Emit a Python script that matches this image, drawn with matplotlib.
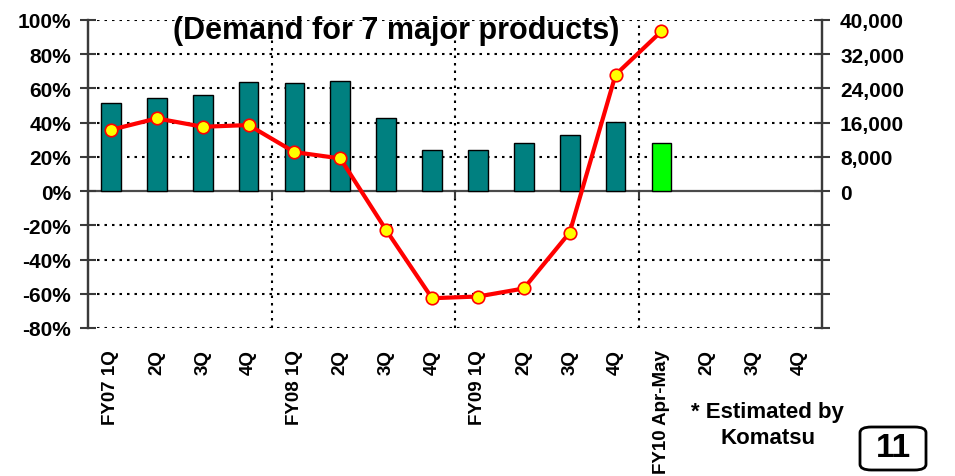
import matplotlib
matplotlib.use("Agg")
import matplotlib.pyplot as plt
from matplotlib.patches import FancyBboxPatch
import numpy as np

plt.rcParams["font.family"] = ["Liberation Sans", "DejaVu Sans"]
plt.rcParams["font.weight"] = "bold"

categories = [
    "FY07 1Q", "2Q", "3Q", "4Q",
    "FY08 1Q", "2Q", "3Q", "4Q",
    "FY09 1Q", "2Q", "3Q", "4Q",
    "FY10 Apr-May", "2Q", "3Q", "4Q",
]
# units (right axis), one per period available
demand_units = [20500, 21800, 22400, 25500, 25200, 25800, 17200, 9600,
                9600, 11200, 13100, 16100, 11200]
# year-on-year change in % (left axis)
yoy_change = [35.8, 42.5, 37.6, 38.6, 22.8, 19.1, -22.8, -62.6,
              -61.6, -56.9, -24.2, 68.0, 93.4]
left_ticks = [-80, -60, -40, -20, 0, 20, 40, 60, 80, 100]
right_ticks = [0, 8000, 16000, 24000, 32000, 40000]

TEAL = "#008080"
GREEN = "#00FF00"
dots = (0, (1.2, 2.4))

fig = plt.figure(figsize=(9.55, 4.77), dpi=100)
ax2 = fig.add_axes([88 / 955, 1 - 329 / 477, (822 - 88) / 955, (329 - 21) / 477])
ax = ax2.twinx()
ax.set_zorder(ax2.get_zorder() + 1)
ax.patch.set_visible(False)

x = np.arange(len(categories))

# bars on right axis
bar_colors = [TEAL] * (len(demand_units) - 1) + [GREEN]
ax2.bar(x[:len(demand_units)], demand_units, width=0.43, color=bar_colors,
        edgecolor="black", linewidth=1.0, zorder=3)
ax2.set_ylim(-32000, 40000)
ax2.set_xlim(-0.5, len(categories) - 0.5)

# grid
for v in range(-32000, 40001, 8000):
    if v == 0:
        ax2.axhline(0, color="#4a4a4a", lw=1.6, zorder=2)
    else:
        ax2.axhline(v, xmin=0.012, color="black", lw=1.5, ls=dots, zorder=1)
for b in [3.5, 7.5, 11.5]:
    ax2.axvline(b, color="black", lw=1.5, ls=dots, zorder=1)
    ax2.plot([b, b], [0, -1500], color="#3a3a3a", lw=1.5, zorder=2)

# line on left axis
ax.plot(x[:len(yoy_change)], yoy_change, color="#FF0000", lw=3,
        marker="o", markersize=9, markerfacecolor="#FFFF00",
        markeredgecolor="#FF0000", markeredgewidth=1.2, zorder=5)
ax.set_ylim(-80, 100)

# axis placement: percent on the left, units on the right
ax.yaxis.tick_left()
ax.yaxis.set_label_position("left")
ax2.yaxis.tick_right()

ax.set_yticks(left_ticks)
ax.set_yticklabels([f"{t}%" for t in left_ticks])
ax2.set_yticks(list(range(-32000, 40001, 8000)))
ax2.set_yticklabels([f"{t:,}" if t in right_ticks else "" for t in range(-32000, 40001, 8000)])

for a in (ax, ax2):
    for s in ("top", "bottom"):
        a.spines[s].set_visible(False)
    a.spines["left"].set_color("#3a3a3a")
    a.spines["right"].set_color("#3a3a3a")
    a.spines["left"].set_linewidth(1.6)
    a.spines["right"].set_linewidth(1.6)

ax.tick_params(axis="y", direction="inout", length=12, width=1.5, color="#3a3a3a",
               labelsize=15, pad=6)
ax2.tick_params(axis="y", direction="inout", length=12, width=1.5, color="#3a3a3a",
                labelsize=15, pad=7)

ax.set_xticks(x)
ax2.set_xticks(x)
ax2.set_xticklabels(categories, rotation=90, fontsize=13.5, va="top", ha="center")
ax2.tick_params(axis="x", length=0, pad=15)
ax.tick_params(axis="x", length=0, labelbottom=False)

fig.text(0.415, 0.935, "(Demand for 7 major products)", ha="center", va="center",
         fontsize=22, fontweight="bold")

fig.text(0.804, 0.108, "* Estimated by\nKomatsu", ha="center", va="center",
         fontsize=16, fontweight="bold", linespacing=1.3)

box = FancyBboxPatch((860 / 955, 1 - 471 / 477), 66 / 955, 43 / 477,
                     boxstyle="round,pad=0,rounding_size=0.012",
                     transform=fig.transFigure, facecolor="white",
                     edgecolor="black", linewidth=2)
fig.patches.append(box)
fig.text(893 / 955, 1 - 449 / 477, "11", ha="center", va="center",
         fontsize=24, fontweight="bold")

fig.savefig("out.png", dpi=100)
